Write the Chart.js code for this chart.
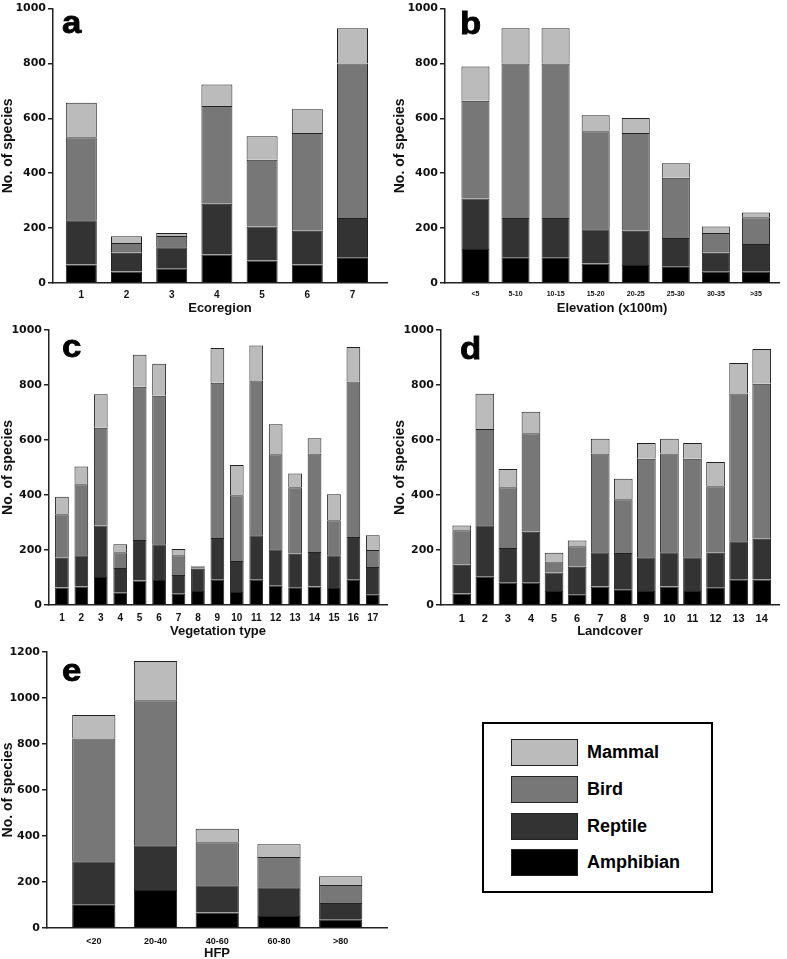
<!DOCTYPE html>
<html>
<head>
<meta charset="utf-8">
<script src="https://cdn.jsdelivr.net/npm/chart.js@4.4.1/dist/chart.umd.min.js"></script>
<style>
  html, body { margin: 0; padding: 0; background: #fff; overflow: hidden; }
  body { width: 787px; height: 959px; position: relative; font-family: "Liberation Sans", Arial, sans-serif; }
  canvas { position: absolute; }
  .letter { position: absolute; font: bold 31px "Liberation Sans", Arial, sans-serif; line-height: 1;
            color: #000; -webkit-text-stroke: 0.8px #000; transform: scaleX(1.12); transform-origin: left top; }
  #legend { position: absolute; left: 482px; top: 722px; width: 227px; height: 167px; border: 2px solid #000; }
  .sw { position: absolute; left: 27px; width: 65px; height: 25px; border: 1px solid #222; }
  .lt { position: absolute; left: 103px; font: bold 18px "Liberation Sans", Arial, sans-serif; line-height: 27px; color: #000; }
</style>
</head>
<body>
<canvas id="ca" width="392" height="316" style="left:0;top:0"></canvas>
<canvas id="cb" width="395" height="316" style="left:392px;top:0"></canvas>
<canvas id="cc" width="392" height="324" style="left:0;top:315px"></canvas>
<canvas id="cd" width="395" height="324" style="left:392px;top:315px"></canvas>
<canvas id="ce" width="392" height="321" style="left:0;top:640px"></canvas>
<div class="letter" style="left:62px;top:7px">a</div>
<div class="letter" style="left:460px;top:8px">b</div>
<div class="letter" style="left:62px;top:331px">c</div>
<div class="letter" style="left:460px;top:333px">d</div>
<div class="letter" style="left:62px;top:655px">e</div>
<div id="legend"></div>
<script>
// series names and fills (bottom to top)
var seriesNames = ['Amphibian', 'Reptile', 'Bird', 'Mammal'];
var seriesColors = ['#000000', '#333333', '#777777', '#bbbbbb'];

// a - Ecoregion
var ecoLabels = ['1', '2', '3', '4', '5', '6', '7'];
var ecoAmph = [67, 42, 52, 104, 82, 67, 94];
var ecoRept = [162, 68, 78, 185, 124, 123, 143];
var ecoBird = [302, 36, 41, 356, 243, 357, 563];
var ecoMamm = [126, 24, 11, 78, 86, 86, 128];

// b - Elevation
var eleLabels = ['<5', '5-10', '10-15', '15-20', '20-25', '25-30', '30-35', '>35'];
var eleAmph = [124, 94, 94, 71, 66, 61, 41, 41];
var eleRept = [184, 143, 143, 125, 124, 103, 69, 101];
var eleBird = [356, 563, 563, 357, 357, 220, 72, 98];
var eleMamm = [125, 128, 128, 58, 54, 52, 24, 17];

// c - Vegetation type
var vegLabels = ['1', '2', '3', '4', '5', '6', '7', '8', '9', '10', '11', '12', '13', '14', '15', '16', '17'];
var vegAmph = [64, 67, 102, 45, 89, 91, 41, 51, 92, 47, 92, 70, 65, 67, 62, 92, 39];
var vegRept = [108, 114, 187, 90, 147, 130, 68, 81, 152, 113, 162, 133, 121, 126, 119, 155, 99];
var vegBird = [158, 258, 356, 57, 558, 540, 72, 5, 564, 239, 562, 345, 242, 358, 127, 566, 62];
var vegMamm = [64, 65, 121, 29, 116, 116, 23, 4, 127, 110, 128, 109, 50, 55, 95, 125, 54];

// d - Landcover
var lcLabels = ['1', '2', '3', '4', '5', '6', '7', '8', '9', '10', '11', '12', '13', '14'];
var lcAmph = [42, 103, 81, 81, 51, 39, 67, 57, 51, 67, 51, 65, 92, 93];
var lcRept = [104, 187, 126, 185, 67, 100, 125, 132, 123, 125, 123, 125, 140, 148];
var lcBird = [126, 350, 221, 359, 40, 75, 359, 196, 358, 359, 358, 242, 537, 564];
var lcMamm = [17, 128, 67, 78, 32, 21, 54, 74, 57, 54, 57, 88, 111, 126];

// e - HFP
var hfpLabels = ['<20', '20-40', '40-60', '60-80', '>80'];
var hfpAmph = [103, 165, 67, 52, 36];
var hfpRept = [187, 195, 119, 125, 73];
var hfpBird = [534, 630, 187, 132, 78];
var hfpMamm = [102, 171, 59, 55, 38];

var FONT = '"Liberation Sans", Arial, sans-serif';

function makePanel(id, labels, series, xTitle, lay) {
    var datasets = series.map(function (vals, k) {
        return {
            label: seriesNames[k],
            data: vals.map(function (v, i) { return { x: i + 1, y: v }; }),
            backgroundColor: seriesColors[k],
            borderColor: '#222',
            borderWidth: 1,
            barPercentage: lay.barPct,
            categoryPercentage: 1
        };
    });

    new Chart(document.getElementById(id), {
        type: 'bar',
        data: { datasets: datasets },
        options: {
            responsive: false,
            animation: false,
            events: [],
            layout: { padding: { top: lay.top, right: lay.right, left: 0, bottom: 0 } },
            plugins: { legend: { display: false }, tooltip: { enabled: false } },
            scales: {
                x: {
                    type: 'linear',
                    stacked: true,
                    offset: false,
                    min: lay.xMin,
                    max: lay.xMax,
                    grid: { display: false, drawTicks: false },
                    border: { display: true, color: '#222', width: 1.5 },
                    afterBuildTicks: function (scale) {
                        scale.ticks = labels.map(function (l, i) { return { value: i + 1 }; });
                    },
                    afterFit: function (scale) { scale.height = lay.h - lay.bottom; },
                    ticks: {
                        autoSkip: false,
                        maxRotation: 0,
                        padding: lay.xPad,
                        color: '#111',
                        font: { family: FONT, weight: 'bold', size: lay.xFont },
                        callback: function (v) { return labels[v - 1]; }
                    },
                    title: {
                        display: true,
                        text: xTitle,
                        color: '#111',
                        padding: 0,
                        font: { family: FONT, weight: 'bold', size: 13 }
                    }
                },
                y: {
                    stacked: true,
                    min: 0,
                    max: lay.yMax,
                    grid: { display: true, drawOnChartArea: false, drawTicks: true, tickLength: 5, color: '#222', lineWidth: 1.5 },
                    border: { display: true, color: '#222', width: 1.5 },
                    afterFit: function (scale) { scale.width = lay.yWidth; },
                    ticks: {
                        stepSize: 200,
                        padding: 2,
                        color: '#111',
                        font: { family: '"DejaVu Sans", sans-serif', weight: 'bold', size: 11 },
                        callback: function (v) { return String(v); }
                    },
                    title: {
                        display: true,
                        text: 'No. of species',
                        color: '#111',
                        padding: 0,
                        font: { family: FONT, weight: 'bold', size: 14 }
                    }
                }
            }
        }
    });
}

makePanel('ca', ecoLabels, [ecoAmph, ecoRept, ecoBird, ecoMamm], 'Ecoregion',
    { h: 316, top: 6, bottom: 283, right: 5, yWidth: 53, xMin: 0.374, xMax: 7.763, barPct: 0.686, yMax: 1000, xFont: 10, xPad: 6 });
makePanel('cb', eleLabels, [eleAmph, eleRept, eleBird, eleMamm], 'Elevation (x100m)',
    { h: 316, top: 6, bottom: 283, right: 8, yWidth: 53, xMin: 0.24, xMax: 8.575, barPct: 0.7, yMax: 1000, xFont: 7, xPad: 7 });
makePanel('cc', vegLabels, [vegAmph, vegRept, vegBird, vegMamm], 'Vegetation type',
    { h: 324, top: 15, bottom: 290, right: 5, yWidth: 49, xMin: 0.335, xMax: 17.73, barPct: 0.706, yMax: 1000, xFont: 10, xPad: 7 });
makePanel('cd', lcLabels, [lcAmph, lcRept, lcBird, lcMamm], 'Landcover',
    { h: 324, top: 15, bottom: 290, right: 8, yWidth: 49, xMin: 0.10, xMax: 14.75, barPct: 0.81, yMax: 1000, xFont: 11, xPad: 7 });
makePanel('ce', hfpLabels, [hfpAmph, hfpRept, hfpBird, hfpMamm], 'HFP',
    { h: 321, top: 12, bottom: 288, right: 5, yWidth: 47, xMin: 0.242, xMax: 5.75, barPct: 0.70, yMax: 1200, xFont: 9, xPad: 8 });

/* Legend box, top entry is the top of the stack */
var legend = document.getElementById('legend');
var rowTops = [15, 52, 89, 125];
for (var k = 0; k < 4; k++) {
    var s = 3 - k;
    var sw = document.createElement('div');
    sw.className = 'sw';
    sw.style.top = rowTops[k] + 'px';
    sw.style.background = seriesColors[s];
    legend.appendChild(sw);
    var t = document.createElement('div');
    t.className = 'lt';
    t.style.top = rowTops[k] + 'px';
    t.textContent = seriesNames[s];
    legend.appendChild(t);
}
</script>
</body>
</html>
